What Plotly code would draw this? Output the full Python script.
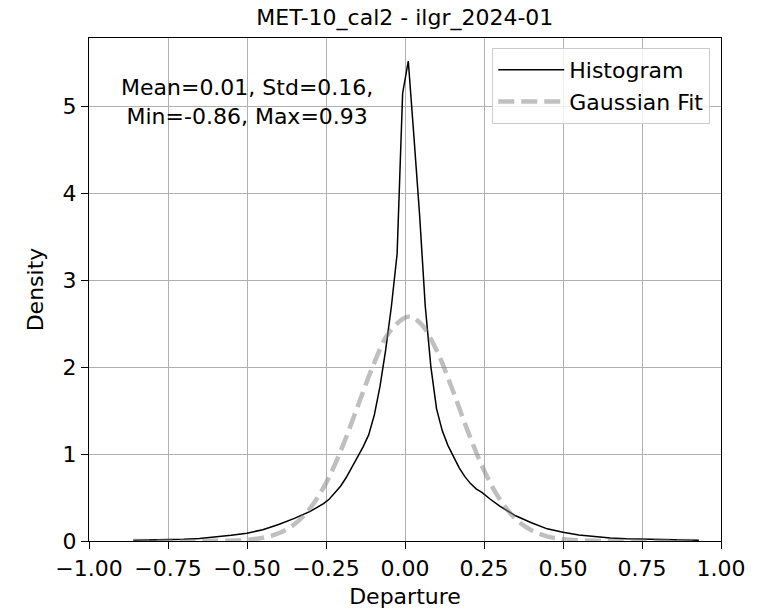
import plotly.graph_objects as go

# ---- data ----
hist_x = [-0.86, -0.80, -0.75, -0.70, -0.65, -0.60, -0.55, -0.50, -0.45, -0.40,
          -0.35, -0.30, -0.258, -0.240, -0.222, -0.204, -0.186, -0.169, -0.151,
          -0.133, -0.115, -0.097, -0.079, -0.061, -0.043, -0.025, -0.0075,
          0.0104, 0.0283, 0.0462, 0.0641, 0.082, 0.0999, 0.1178, 0.1357, 0.1536,
          0.1715, 0.1894, 0.2073, 0.2252, 0.2431, 0.27, 0.30, 0.35, 0.40, 0.45,
          0.50, 0.55, 0.60, 0.65, 0.70, 0.75, 0.80, 0.85, 0.93]
hist_y = [0.008, 0.01, 0.014, 0.02, 0.03, 0.045, 0.065, 0.09, 0.13, 0.19,
          0.26, 0.34, 0.43, 0.48, 0.55, 0.63, 0.73, 0.84, 0.96,
          1.08, 1.22, 1.45, 1.78, 2.2, 2.7, 3.3, 5.15,
          5.52, 4.65, 3.75, 2.7, 2.0, 1.52, 1.27, 1.1, 0.96,
          0.84, 0.74, 0.66, 0.6, 0.56, 0.48, 0.40, 0.29, 0.21, 0.14,
          0.1, 0.07, 0.05, 0.035, 0.027, 0.022, 0.016, 0.012, 0.01]

gauss_x = [-0.86, -0.70, -0.60, -0.50, -0.45, -0.40, -0.35, -0.30, -0.25, -0.20,
           -0.15, -0.10, -0.05, 0.01, 0.05, 0.10, 0.15, 0.20, 0.25, 0.30,
           0.35, 0.40, 0.45, 0.50, 0.60, 0.70, 0.93]
gauss_y = [0.0, 0.0001, 0.0015, 0.014, 0.037, 0.089, 0.192, 0.377, 0.666, 1.067,
           1.545, 2.025, 2.40, 2.58, 2.499, 2.193, 1.742, 1.252, 0.814, 0.479,
           0.255, 0.123, 0.053, 0.021, 0.0024, 0.0001, 0.0]

x_ticks = [-1.0, -0.75, -0.5, -0.25, 0.0, 0.25, 0.5, 0.75, 1.0]
y_ticks = [0, 1, 2, 3, 4, 5]

title_text = "MET-10_cal2 - ilgr_2024-01"
stats_text = "Mean=0.01, Std=0.16,<br>Min=-0.86, Max=0.93"

FONT = "DejaVu Sans"

fig = go.Figure()
fig.add_trace(go.Scatter(x=hist_x, y=hist_y, mode="lines", name="Histogram",
                         line=dict(color="black", width=1.5)))
fig.add_trace(go.Scatter(x=gauss_x, y=gauss_y, mode="lines", name="Gaussian Fit",
                         line=dict(color="rgba(128,128,128,0.5)", width=4.5,
                                   dash="16px,7px", shape="spline")))

fig.update_layout(
    width=761, height=610,
    margin=dict(l=89, r=40, t=38, b=69, autoexpand=False),
    paper_bgcolor="white", plot_bgcolor="white",
    font=dict(family=FONT, size=22, color="black"),
    title=dict(text=title_text, x=0.532, xanchor="center", y=0.972, yanchor="middle",
               font=dict(size=22)),
    legend=dict(x=0.983, xanchor="right", y=0.98, yanchor="top",
                bgcolor="rgba(255,255,255,0.8)", bordercolor="#cccccc", borderwidth=1,
                font=dict(size=22), itemwidth=66, tracegroupgap=0),
    showlegend=True,
)

axis_common = dict(showline=True, mirror=True, linecolor="black", linewidth=1.2,
                   showgrid=True, gridcolor="#b0b0b0", gridwidth=1, zeroline=False,
                   ticks="outside", ticklen=7, tickcolor="black", tickwidth=1.2,
                   automargin=False, tickfont=dict(size=22))

fig.update_xaxes(range=[-1, 1], tickvals=x_ticks, tickformat=".2f",
                 title=dict(text="Departure", standoff=9, font=dict(size=22)),
                 **axis_common)
fig.update_yaxes(range=[0, 5.785], tickvals=y_ticks,
                 title=dict(text="Density", standoff=12, font=dict(size=22)),
                 **axis_common)

fig.add_annotation(text=stats_text, xref="x", yref="y", x=-0.5, y=5.05,
                   showarrow=False, xanchor="center", yanchor="middle",
                   font=dict(size=22), align="center")

fig.write_html("out.html")
